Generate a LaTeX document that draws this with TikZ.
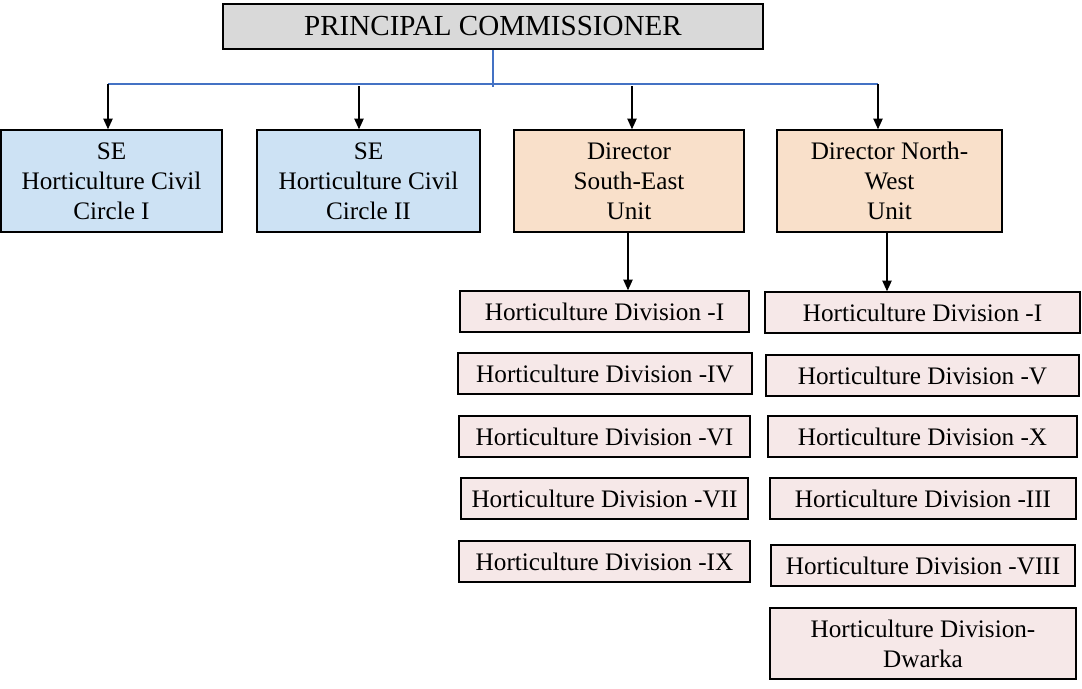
\documentclass[tikz,border=0pt]{standalone}
\usepackage{fontspec}
\setmainfont{Liberation Serif}
\usepackage{xcolor}
\usepackage{tikz}
\usetikzlibrary{arrows.meta,positioning,calc}
\definecolor{headgray}{RGB}{217,217,217}
\definecolor{seblue}{RGB}{205,226,244}
\definecolor{dirpeach}{RGB}{249,224,202}
\definecolor{divpink}{RGB}{246,232,232}
\definecolor{busblue}{RGB}{68,114,196}

\begin{document}
\begin{tikzpicture}[
  x=0.75pt, y=-0.75pt,
  every node/.style={rectangle, draw, line width=1.1pt, inner sep=0pt, align=center,
    font=\fontsize{18.9}{22.5}\selectfont},
  head/.style={fill=headgray, line width=1.6pt, minimum width=405pt, minimum height=33.75pt,
    font=\fontsize{21.8}{25}\selectfont},
  circ/.style={fill=seblue, minimum height=76.5pt},
  dir/.style={fill=dirpeach, minimum height=76.5pt},
  div/.style={fill=divpink, minimum height=30.75pt},
  bus/.style={line width=1pt, color=busblue},
  arr/.style={line width=1pt, -{Triangle[length=8pt, width=7pt]}}
]
  \useasboundingbox (0,0) rectangle (1082,689);

  \node[head] (pc) at (493,26.5) {PRINCIPAL COMMISSIONER};

  \node[circ, minimum width=165.75pt] (se1) at (111.5,181) {SE\\Horticulture Civil\\Circle I};
  \node[circ, minimum width=167.25pt] (se2) at (368.5,181) {SE\\Horticulture Civil\\Circle II};
  \node[dir, minimum width=172.5pt] (dse) at (629,181) {Director\\South-East\\Unit};
  \node[dir, minimum width=168.75pt] (dnw) at (889.5,181) {Director North-\\West\\Unit};

  % south-east divisions
  \node[div, minimum width=216.75pt] (sd1) at (604.5,311.5) {Horticulture Division -I};
  \node[div, minimum width=220.5pt] (sd4) at (605,373.5) {Horticulture Division -IV};
  \node[div, minimum width=218.25pt] (sd6) at (604.5,436.5) {Horticulture Division -VI};
  \node[div, minimum width=215.25pt] (sd7) at (604.5,498.5) {Horticulture Division -VII};
  \node[div, minimum width=218.25pt] (sd9) at (604.5,561.5) {Horticulture Division -IX};

  % north-west divisions
  \node[div, minimum width=236.25pt] (nd1) at (922.5,312.5) {Horticulture Division -I};
  \node[div, minimum width=234.75pt] (nd5) at (922.5,375.5) {Horticulture Division -V};
  \node[div, minimum width=231.75pt] (nd10) at (922.5,436.5) {Horticulture Division -X};
  \node[div, minimum width=229.5pt] (nd3) at (923,498.5) {Horticulture Division -III};
  \node[div, minimum width=228pt] (nd8) at (923,565.5) {Horticulture Division -VIII};
  \node[div, minimum width=229.5pt, minimum height=53.25pt] (ndw) at (923,643.5) {Horticulture Division-\\Dwarka};

  \coordinate (b1) at (108,84);
  \coordinate (b2) at (359,86);
  \coordinate (b3) at (632,86);
  \coordinate (b4) at (878,84);

  \draw[bus] (pc.south) -- ++(0,37);
  \draw[bus] (b1) -- (b4);

  \draw[arr] (b1) -- (b1 |- se1.north);
  \draw[arr] (b2) -- (b2 |- se2.north);
  \draw[arr] (b3) -- (b3 |- dse.north);
  \draw[arr] (b4) -- (b4 |- dnw.north);

  \draw[arr] ($(dse.south)+(-1,0)$) -- ($(dse.south |- sd1.north)+(-1,0)$);
  \draw[arr] ($(dnw.south)+(-2.5,0)$) -- ($(dnw.south |- nd1.north)+(-2.5,0)$);
\end{tikzpicture}
\end{document}
